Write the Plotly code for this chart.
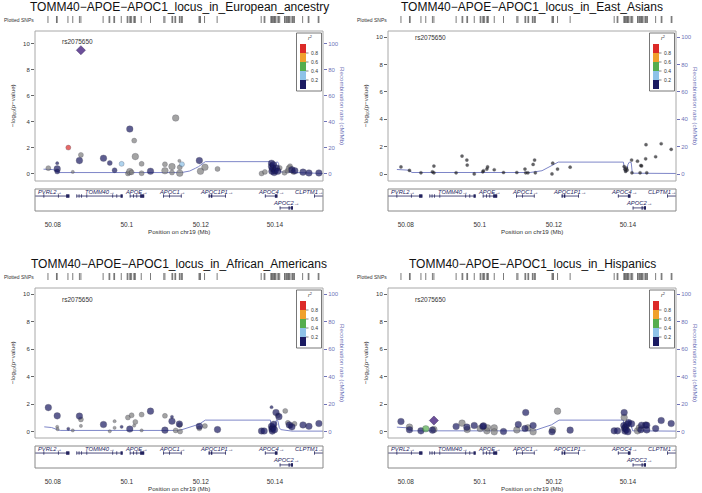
import plotly.graph_objects as go

W, H = 702, 493
FONT = "Liberation Sans, Arial, sans-serif"

# ------------------------------------------------------------------ data
panel_titles = [
    "TOMM40\u2212APOE\u2212APOC1_locus_in_European_ancestry",
    "TOMM40\u2212APOE\u2212APOC1_locus_in_East_Asians",
    "TOMM40\u2212APOE\u2212APOC1_locus_in_African_Americans",
    "TOMM40\u2212APOE\u2212APOC1_locus_in_Hispanics",
]
index_snp = "rs2075650"
index_pos = 50.0876
index_logp = [9.52, None, None, 0.82]
index_label_y = [10.23, 9.98, 9.64, 9.60]

x_tick_vals = [50.08, 50.10, 50.12, 50.14]
x_tick_text = ["50.08", "50.1", "50.12", "50.14"]
logp_ticks = [0, 2, 4, 6, 8, 10]
recomb_ticks = [0, 20, 40, 60, 80, 100]
r2_breaks = [0.2, 0.4, 0.6, 0.8]
r2_labels = ["0.2", "0.4", "0.6", "0.8"]

# European ancestry  (r2: None = no LD information; size class 0 small / 1 medium / 2 large)
eur_pos = [50.0788, 50.0812, 50.0812, 50.0812, 50.0842, 50.0854, 50.0872, 50.0876, 50.0937, 50.0954,
           50.0967, 50.0986, 50.1003, 50.1008, 50.1008, 50.1013, 50.1020, 50.1023, 50.1040, 50.1040,
           50.1064, 50.1103, 50.1103, 50.1122, 50.1122, 50.1132, 50.1142, 50.1143, 50.1149, 50.1143,
           50.1196, 50.1199, 50.1211, 50.1245, 50.1364, 50.1373, 50.1391, 50.1391, 50.1392, 50.1394,
           50.1396, 50.1398, 50.1401, 50.1404, 50.1408, 50.1413, 50.1426, 50.1434, 50.1439, 50.1441,
           50.1446, 50.1450, 50.1454, 50.1476, 50.1492, 50.1519]
eur_logp = [0.44, 0.82, 0.38, 0.18, 2.02, 0.15, 1.02, 1.46, 1.20, 0.84,
            0.28, 0.77, 0.03, 3.45, 0.17, 0.12, 2.56, 1.33, 0.77, 0.05,
            0.20, 0.74, 0.24, 0.56, 0.10, 4.30, 1.00, 0.50, 0.74, 0.05,
            1.02, 0.20, 0.51, 0.38, 0.03, 0.15, 0.82, 0.56, 0.20, 0.40,
            0.70, 0.10, 0.25, 0.45, 0.20, 0.46, 0.08, 0.23, 0.41, 0.59,
            0.31, 0.15, 0.23, 0.13, 0.07, 0.07]
eur_r2 = [None, 0.1, 0.1, 0.1, 0.9, None, 0.1, None, 0.1, 0.1,
          0.1, 0.3, None, 0.1, None, None, None, None, None, None,
          0.1, None, None, None, None, None, None, None, 0.3, None,
          0.1, None, None, None, None, None, 0.1, 0.1, 0.1, 0.1,
          0.1, 0.1, 0.1, 0.1, 0.1, None, None, None, None, None,
          0.1, None, 0.1, 0.1, 0.1, 0.1]
eur_size = [1, 0, 2, 1, 1, 0, 2, 1, 2, 1,
            1, 1, 1, 2, 2, 1, 1, 2, 1, 1,
            2, 1, 2, 2, 1, 2, 0, 1, 1, 2,
            2, 2, 2, 1, 1, 1, 2, 2, 2, 2,
            2, 2, 2, 2, 2, 1, 1, 1, 2, 1,
            2, 1, 2, 2, 2, 2]

# East Asians
eas_pos = [50.0787, 50.0810, 50.0841, 50.0872, 50.0876, 50.0876, 50.0936, 50.0952, 50.0965, 50.0966,
           50.0985, 50.1008, 50.1010, 50.1019, 50.1021, 50.1039, 50.1064, 50.1100, 50.1122, 50.1124,
           50.1130, 50.1144, 50.1148, 50.1150, 50.1195, 50.1197, 50.1210, 50.1244, 50.1390, 50.1392,
           50.1394, 50.1396, 50.1398, 50.1410, 50.1411, 50.1426, 50.1435, 50.1437, 50.1448, 50.1449,
           50.1433, 50.1451, 50.1475, 50.1490, 50.1517]
eas_logp = [0.53, 0.27, 0.10, 0.17, 0.59, 0.10, 0.10, 1.32, 1.03, 0.66,
            0.02, 0.17, 0.25, 0.37, 0.53, 0.32, 0.12, 0.12, 0.37, 0.10,
            0.10, 0.71, 1.03, 0.10, 0.02, 0.80, 0.37, 0.51, 0.55, 0.35,
            0.20, 0.45, 0.30, 1.03, 0.10, 0.95, 0.63, 0.60, 1.12, 2.15,
            0.10, 0.10, 1.27, 2.22, 1.81]
eas_r2 = [None] * len(eas_pos)
eas_size = [0] * len(eas_pos)

# African Americans
afr_pos = [50.0788, 50.0812, 50.0812, 50.0813, 50.0842, 50.0854, 50.0872, 50.0876, 50.0876, 50.0937,
           50.0954, 50.0967, 50.0967, 50.0986, 50.1003, 50.1008, 50.1013, 50.1020, 50.1023, 50.1040,
           50.1040, 50.1064, 50.1103, 50.1103, 50.1122, 50.1122, 50.1132, 50.1142, 50.1143, 50.1144,
           50.1196, 50.1196, 50.1211, 50.1245, 50.1364, 50.1371, 50.1391, 50.1391, 50.1392, 50.1393,
           50.1395, 50.1397, 50.1399, 50.1403, 50.1408, 50.1411, 50.1428, 50.1435, 50.1439, 50.1442,
           50.1446, 50.1453, 50.1476, 50.1492, 50.1519]
afr_logp = [1.76, 1.16, 0.36, 0.19, 0.22, 0.10, 1.14, 0.90, 0.43, 0.53,
            0.04, 0.77, 0.29, 0.36, 1.04, 0.20, 1.20, 0.45, 0.72, 1.25,
            0.10, 1.50, 1.16, 0.12, 1.09, 0.77, 0.10, 0.57, 0.50, 0.02,
            0.40, 0.25, 0.42, 0.16, 0.06, 0.06, 1.79, 0.40, 0.20, 0.05,
            0.30, 0.55, 0.15, 1.40, 1.20, 1.10, 1.52, 0.65, 0.50, 0.43,
            0.36, 0.58, 0.50, 0.40, 0.60]
afr_r2 = [0.1, 0.1, None, None, 0.1, None, 0.1, None, None, 0.1,
          None, None, None, 0.1, None, 0.1, None, None, None, None,
          None, 0.1, None, 0.1, 0.1, 0.1, None, 0.1, None, None,
          0.1, None, None, 0.1, 0.1, 0.1, 0.1, 0.1, 0.1, 0.1,
          0.1, 0.1, 0.1, 0.1, None, 0.1, None, None, 0.1, None,
          0.1, None, 0.1, 0.1, 0.1]
afr_size = [2, 2, 0, 0, 0, 0, 2, 1, 0, 2,
            0, 0, 0, 0, 1, 2, 1, 0, 1, 1,
            0, 2, 1, 2, 0, 2, 1, 2, 1, 1,
            2, 1, 1, 2, 2, 2, 0, 2, 2, 2,
            2, 2, 2, 2, 1, 2, 1, 1, 2, 1,
            2, 1, 2, 2, 2]

# Hispanics
his_pos = [50.0787, 50.0810, 50.0810, 50.0841, 50.0854, 50.0872, 50.0876, 50.0936, 50.0952, 50.0965,
           50.0966, 50.0985, 50.1001, 50.1008, 50.1010, 50.1019, 50.1021, 50.1039, 50.1039, 50.1064,
           50.1100, 50.1104, 50.1122, 50.1124, 50.1130, 50.1144, 50.1144, 50.1195, 50.1197, 50.1210,
           50.1244, 50.1363, 50.1372, 50.1390, 50.1390, 50.1389, 50.1391, 50.1392, 50.1394, 50.1396,
           50.1398, 50.1400, 50.1402, 50.1410, 50.1426, 50.1431, 50.1435, 50.1437, 50.1448, 50.1451,
           50.1451, 50.1475, 50.1490, 50.1517]
his_logp = [0.75, 0.34, 0.15, 0.07, 0.22, 0.12, 0.17, 0.39, 0.63, 0.34,
            0.17, 0.46, 0.24, 0.39, 0.43, 0.07, 0.29, 0.29, 0.00, 0.02,
            0.14, 0.53, 0.24, 1.40, 0.29, 0.46, 0.00, 0.00, 0.14, 1.50,
            0.12, 0.07, 0.07, 1.40, 1.04, 0.45, 0.25, 0.05, 0.35, 0.15,
            0.55, 0.00, 0.67, 0.58, 0.07, 0.29, 0.15, 0.48, 0.50, 0.48,
            0.14, 0.24, 0.82, 0.60]
his_r2 = [0.1, None, 0.1, 0.1, 0.5, 0.1, None, 0.1, None, 0.1,
          None, 0.1, None, 0.1, 0.1, None, None, None, None, 0.1,
          None, 0.1, 0.1, 0.1, None, 0.1, None, 0.1, None, None,
          0.1, 0.1, 0.1, 0.1, None, 0.1, 0.1, 0.1, 0.1, 0.1,
          0.1, 0.1, 0.1, 0.1, None, None, 0.1, 0.1, 0.1, 0.1,
          0.1, 0.1, 0.1, 0.1]
his_size = [2] * len(his_pos)

# recombination rate (cM/Mb)
eur_rec_pos = [50.0775, 50.0800, 50.0812, 50.0816, 50.1148, 50.1170, 50.1186, 50.1194, 50.1212, 50.1387,
               50.1389, 50.1392, 50.1396, 50.1400, 50.1404, 50.1407, 50.1410, 50.1412, 50.1416, 50.1450, 50.1530]
eur_rec_rate = [3.6, 3.3, 2.2, 1.0, 1.0, 2.2, 4.4, 5.6, 9.4, 9.4,
                5.0, 1.8, 1.5, 3.0, 9.0, 9.2, 8.0, 4.0, 1.4, 1.0, 0.3]
eas_rec_pos = [50.0776, 50.0808, 50.0817, 50.1136, 50.1168, 50.1194, 50.1212, 50.1388, 50.1391, 50.1394,
               50.1397, 50.1400, 50.1404, 50.1409, 50.1412, 50.1530]
eas_rec_rate = [3.4, 2.9, 1.2, 1.2, 2.5, 5.9, 8.8, 8.8, 2.9, 1.5,
                2.5, 7.0, 8.8, 8.5, 0.7, 0.5]
afr_rec_pos = [50.0777, 50.0797, 50.0812, 50.0820, 50.1131, 50.1140, 50.1196, 50.1212, 50.1388, 50.1390,
               50.1394, 50.1400, 50.1404, 50.1408, 50.1412, 50.1416, 50.1446, 50.1530]
afr_rec_rate = [3.6, 3.1, 1.6, 1.0, 1.0, 0.8, 5.6, 8.5, 8.5, 2.0,
                0.8, 2.0, 8.7, 8.0, 3.0, 1.6, 0.5, 0.5]
his_rec_pos = [50.0776, 50.0803, 50.0817, 50.1145, 50.1194, 50.1214, 50.1388, 50.1390, 50.1395, 50.1402,
               50.1405, 50.1410, 50.1413, 50.1530]
his_rec_rate = [3.4, 2.9, 0.7, 0.7, 5.1, 8.5, 8.5, 0.3, 0.5, 8.5,
                8.0, 2.0, 0.7, 0.5]

# genes (Mb)
gene_names = ["PVRL2", "TOMM40", "APOE", "APOC1", "APOC1P1", "APOC4", "APOC2", "CLPTM1"]
gene_start = [50.0740, 50.0864, 50.1008, 50.1098, 50.1221, 50.1373, 50.1413, 50.1506]
gene_end = [50.0845, 50.0989, 50.1047, 50.1148, 50.1268, 50.1407, 50.1449, 50.1600]
gene_row = [0, 0, 0, 0, 0, 0, 1, 0]
gene_exons = [
    [(50.0775, 50.0777), (50.0814, 50.0816), (50.0836, 50.0845)],
    [(50.0864, 50.0866), (50.0870, 50.0872), (50.0877, 50.0879), (50.0891, 50.0893),
     (50.0961, 50.0963), (50.0972, 50.0974), (50.0983, 50.0989)],
    [(50.1008, 50.1010), (50.1017, 50.1019), (50.1026, 50.1028), (50.1036, 50.1047)],
    [(50.1098, 50.1100), (50.1114, 50.1116), (50.1146, 50.1148)],
    [(50.1221, 50.1224), (50.1227, 50.1231), (50.1266, 50.1268)],
    [(50.1373, 50.1375), (50.1400, 50.1407)],
    [(50.1413, 50.1415), (50.1437, 50.1440), (50.1443, 50.1449)],
    [(50.1506, 50.1508)],
]

panel_data = [
    (eur_pos, eur_logp, eur_r2, eur_size, eur_rec_pos, eur_rec_rate),
    (eas_pos, eas_logp, eas_r2, eas_size, eas_rec_pos, eas_rec_rate),
    (afr_pos, afr_logp, afr_r2, afr_size, afr_rec_pos, afr_rec_rate),
    (his_pos, his_logp, his_r2, his_size, his_rec_pos, his_rec_rate),
]

# ------------------------------------------------------------------ style
X_RANGE = [50.0752, 50.1530]
Y_RANGES = [[-0.55, 11.0], [-0.5, 10.45], [-0.45, 10.45], [-0.45, 10.45]]
BOXES = [  # left, right, top, bottom in pixels
    (35, 323, 31, 181),
    (388, 676, 31, 181),
    (35, 323, 288, 438),
    (388, 676, 288, 438),
]
R2_COLORS = ["#1b1b62", "#8ec2e8", "#55ad4e", "#f0a02c", "#dc2a28"]
NA_COLORS = ["#7d7d7d", "#222222", "#7d7d7d", "#7d7d7d"]
SIZE_PX = [3.2, 5.0, 6.6]
REC_COLOR = "#7e86c8"
AX_BLUE = "#6f73b8"
BOX_COLOR = "#a8a8a8"


def r2_color(v, na):
    if v is None:
        return na
    k = sum(1 for b in r2_breaks if v >= b)
    return R2_COLORS[k]


def px(x):
    return x / W


def py(y):
    return 1 - y / H


def ann(**kw):
    d = dict(showarrow=False, xanchor="center", yanchor="middle")
    d.update(kw)
    return d


traces, shapes, annotations = [], [], []
layout = dict(template="none", width=W, height=H, margin=dict(l=0, r=0, t=0, b=0, pad=0, autoexpand=False),
              paper_bgcolor="white", plot_bgcolor="white", showlegend=False,
              font=dict(family=FONT, color="#222"))
counter = {"x": 0, "y": 0}


def new_axis(kind):
    counter[kind] += 1
    n = counter[kind]
    return (f"{kind}axis" if n == 1 else f"{kind}axis{n}"), (kind if n == 1 else f"{kind}{n}")


# rug: all plotted SNP positions (merged when closer than 0.00015 Mb)
rug_pos = []
for p in sorted(p for d in panel_data for p in d[0]):
    if not rug_pos or p - rug_pos[-1] > 0.00015:
        rug_pos.append(p)

for i, (pos, logp, r2, size, rpos, rrate) in enumerate(panel_data):
    L, R, T, B = BOXES[i]
    yr0, yr1 = Y_RANGES[i]
    xm_k, xm = new_axis("x")
    yR_k, yR = new_axis("y")
    yL_k, yL = new_axis("y")
    xg_k, xg = new_axis("x")
    yg_k, yg = new_axis("y")
    xr_k, xr = new_axis("x")
    yru_k, yru = new_axis("y")

    common = dict(automargin=False, showgrid=False, zeroline=False, showline=False)
    layout[xm_k] = dict(domain=[px(L), px(R)], range=X_RANGE, anchor=yR, showticklabels=False,
                        ticks="", **common)
    layout[yR_k] = dict(domain=[py(B), py(T)], range=[yr0 * 10, yr1 * 10], anchor=xm, side="right",
                        tickvals=recomb_ticks, ticks="outside", ticklen=3, tickcolor=AX_BLUE,
                        tickfont=dict(size=6, color=AX_BLUE), **common)
    layout[yL_k] = dict(range=[yr0, yr1], anchor=xm, overlaying=yR, side="left",
                        tickvals=logp_ticks, ticks="outside", ticklen=3, tickcolor="#666",
                        tickfont=dict(size=6, color="#333"), **common)
    layout[xg_k] = dict(domain=[px(L), px(R)], range=X_RANGE, anchor=yg, tickvals=x_tick_vals,
                        ticktext=x_tick_text, ticks="outside", ticklen=7, tickcolor="rgba(0,0,0,0)",
                        tickfont=dict(size=6.5, color="#333"), **common)
    layout[yg_k] = dict(domain=[py(B + 30), py(B + 8)], range=[0, 1], anchor=xg, visible=False, **common)
    layout[xr_k] = dict(domain=[px(L), px(R)], range=X_RANGE, anchor=yru, visible=False, **common)
    layout[yru_k] = dict(domain=[py(T - 8), py(T - 15)], range=[0, 1], anchor=xr, visible=False, **common)

    # recombination line (base axis, drawn beneath the points)
    traces.append(go.Scatter(x=rpos, y=rrate, xaxis=xm, yaxis=yR, mode="lines",
                             line=dict(color=REC_COLOR, width=1), hoverinfo="skip"))
    # SNP points: draw no-LD ones first, then LD-coloured ones
    order = sorted(range(len(pos)), key=lambda j: (r2[j] is not None, r2[j] or 0))
    cols = [r2_color(r2[j], NA_COLORS[i]) for j in order]
    traces.append(go.Scatter(
        x=[pos[j] for j in order], y=[logp[j] for j in order], xaxis=xm, yaxis=yL, mode="markers",
        marker=dict(color=cols, size=[SIZE_PX[size[j]] for j in order],
                    line=dict(color="rgba(20,20,40,0.6)", width=0.5)),
        cliponaxis=True))
    if index_logp[i] is not None:
        traces.append(go.Scatter(x=[index_pos], y=[index_logp[i]], xaxis=xm, yaxis=yL, mode="markers",
                                 marker=dict(symbol="diamond", color="#6c4f9a", size=7,
                                             line=dict(color="#3c2a60", width=0.5))))
    annotations.append(ann(x=index_pos - 0.0008, y=index_label_y[i], xref=xm, yref=yL, text=index_snp,
                           font=dict(size=6.5, color="#333")))

    # rug of plotted SNPs
    traces.append(go.Scatter(x=rug_pos, y=[0.5] * len(rug_pos), xaxis=xr, yaxis=yru, mode="markers",
                             marker=dict(symbol="line-ns", size=6, line=dict(color="#444", width=0.7))))
    annotations.append(ann(x=px(L - 33), y=py(T - 11), xref="paper", yref="paper", xanchor="left",
                           text="Plotted SNPs", font=dict(size=5, color="#333")))

    # genes
    for g, name in enumerate(gene_names):
        yl = 0.68 if gene_row[g] == 0 else 0.14
        ylab = 0.86 if gene_row[g] == 0 else 0.36
        traces.append(go.Scatter(x=[gene_start[g], gene_end[g]], y=[yl, yl], xaxis=xg, yaxis=yg,
                                 mode="lines", line=dict(color="#23235e", width=0.8), hoverinfo="skip"))
        for (s, e) in gene_exons[g]:
            traces.append(go.Scatter(x=[s, e], y=[yl, yl], xaxis=xg, yaxis=yg, mode="lines",
                                     line=dict(color="#23235e", width=3.5), hoverinfo="skip"))
        label = name + "\u2192"
        half = len(label) * 0.00050
        cx = (gene_start[g] + gene_end[g]) / 2
        cx = min(max(cx, X_RANGE[0] + half + 0.0002), X_RANGE[1] - half - 0.0002)
        annotations.append(ann(x=cx, y=ylab, xref=xg, yref=yg, text="<i>" + label + "</i>",
                               font=dict(size=5.8, color="#23235e")))

    # frames
    shapes.append(dict(type="rect", xref="paper", yref="paper", x0=px(L), x1=px(R), y0=py(B), y1=py(T),
                       line=dict(color=BOX_COLOR, width=1)))
    shapes.append(dict(type="rect", xref="paper", yref="paper", x0=px(L), x1=px(R), y0=py(B + 30),
                       y1=py(B + 8), line=dict(color="#888", width=1)))

    # titles
    cx = (L + R) / 2
    annotations.append(ann(x=px(cx), y=py(T - 24), xref="paper", yref="paper", text=panel_titles[i],
                           font=dict(size=12, color="#111")))
    annotations.append(ann(x=px(cx), y=py(B + 50), xref="paper", yref="paper",
                           text="Position on chr19 (Mb)", font=dict(size=6.2, color="#333")))
    annotations.append(ann(x=px(L - 22), y=py((T + B) / 2), xref="paper", yref="paper",
                           text="\u2212log<sub>10</sub>(p\u2212value)", textangle=-90,
                           font=dict(size=6.2, color="#333")))
    annotations.append(ann(x=px(R + 20), y=py((T + B) / 2), xref="paper", yref="paper",
                           text="Recombination rate (cM/Mb)", textangle=90,
                           font=dict(size=6.2, color=AX_BLUE)))

    # r2 legend
    lr = R - 1.5
    ll = lr - 25
    lt = T + 2
    lb = lt + 58
    shapes.append(dict(type="rect", xref="paper", yref="paper", x0=px(ll), x1=px(lr), y0=py(lb),
                       y1=py(lt), line=dict(color="#555", width=0.8), fillcolor="white"))
    bx0, bx1 = ll + 3.5, ll + 9.5
    by0 = lt + 11
    for k, c in enumerate(reversed(R2_COLORS)):
        shapes.append(dict(type="rect", xref="paper", yref="paper", x0=px(bx0), x1=px(bx1),
                           y0=py(by0 + 9 * (k + 1)), y1=py(by0 + 9 * k), line=dict(width=0),
                           fillcolor=c))
    for k, lab in enumerate(reversed(r2_labels)):
        yy = by0 + 9 * (k + 1)
        shapes.append(dict(type="line", xref="paper", yref="paper", x0=px(bx1), x1=px(bx1 + 2.5),
                           y0=py(yy), y1=py(yy), line=dict(color="#333", width=0.6)))
        annotations.append(ann(x=px(bx1 + 3), y=py(yy), xref="paper", yref="paper", xanchor="left",
                               text=lab, font=dict(size=5, color="#333")))
    annotations.append(ann(x=px(ll + 13), y=py(lt + 5), xref="paper", yref="paper",
                           text="<i>r</i><sup>2</sup>", font=dict(size=5.5, color="#333")))

layout["shapes"] = shapes
layout["annotations"] = annotations
fig = go.Figure(data=traces, layout=layout)
fig.write_html("out.html", config={"displayModeBar": False, "staticPlot": True},
               post_script="document.body.style.margin='0';document.body.style.overflow='hidden';")
